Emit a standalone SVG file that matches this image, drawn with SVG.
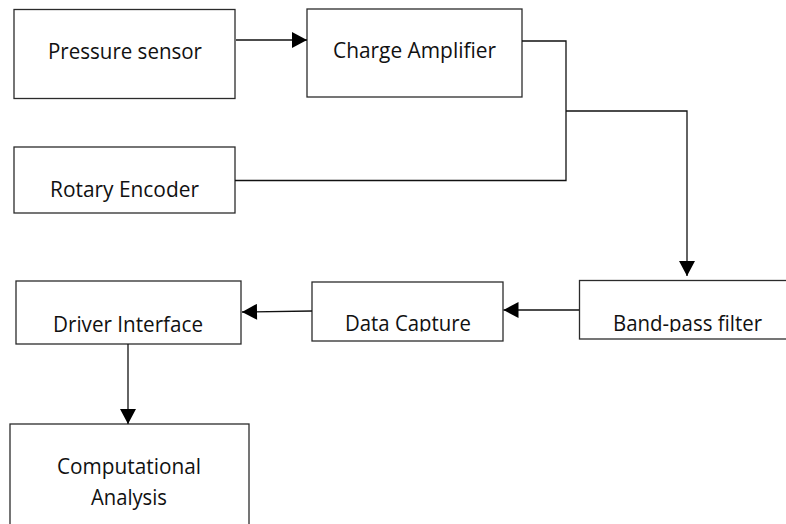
<svg xmlns="http://www.w3.org/2000/svg" width="786" height="524" viewBox="0 0 786 524">
  <style>
    .box { fill: #ffffff; stroke: #2b2b2b; stroke-width: 1.3; }
    .label { font-family: "Open Sans", "Noto Sans", "Liberation Sans", sans-serif; font-size: 21.5px; fill: #111111; text-anchor: middle; }
    .wire { fill: none; stroke: #111111; stroke-width: 1.3; }
  </style>
  <defs>
    <marker id="arrow" markerUnits="userSpaceOnUse" markerWidth="16" markerHeight="16" viewBox="0 0 15 16" refX="15" refY="8" orient="auto">
      <path d="M0,0 L15,8 L0,16 Z" fill="#000000"/>
    </marker>
    <clipPath id="clip-capture"><rect x="312" y="282" width="191" height="49.5"/></clipPath>
    <clipPath id="clip-bandpass"><rect x="579" y="281" width="207" height="51"/></clipPath>
  </defs>

  <rect width="786" height="524" fill="#ffffff"/>

  <g id="pressure-sensor">
    <rect class="box" x="14" y="9.5" width="221" height="89"/>
    <text class="label" x="125" y="59" textLength="154" lengthAdjust="spacingAndGlyphs">Pressure sensor</text>
  </g>

  <g id="charge-amplifier">
    <rect class="box" x="307" y="9" width="215" height="88"/>
    <text class="label" x="414.5" y="58" textLength="163" lengthAdjust="spacingAndGlyphs">Charge Amplifier</text>
  </g>

  <g id="rotary-encoder">
    <rect class="box" x="14" y="147" width="221" height="66"/>
    <text class="label" x="124.5" y="197" textLength="149" lengthAdjust="spacingAndGlyphs">Rotary Encoder</text>
  </g>

  <g id="band-pass-filter">
    <rect class="box" x="579.5" y="280.5" width="220" height="58.5"/>
    <text class="label" x="687.5" y="331" textLength="149" lengthAdjust="spacingAndGlyphs" clip-path="url(#clip-bandpass)">Band-pass filter</text>
  </g>

  <g id="data-capture">
    <rect class="box" x="312" y="282" width="191" height="59"/>
    <text class="label" x="408" y="331" textLength="126" lengthAdjust="spacingAndGlyphs" clip-path="url(#clip-capture)">Data Capture</text>
  </g>

  <g id="driver-interface">
    <rect class="box" x="16" y="281" width="225" height="63"/>
    <text class="label" x="128" y="331.5" textLength="150" lengthAdjust="spacingAndGlyphs">Driver Interface</text>
  </g>

  <g id="computational-analysis">
    <rect class="box" x="10" y="424" width="239" height="120"/>
    <text class="label" x="129" y="474" textLength="144" lengthAdjust="spacingAndGlyphs">Computational</text>
    <text class="label" x="129" y="505" textLength="76" lengthAdjust="spacingAndGlyphs">Analysis</text>
  </g>

  <g id="connectors">
    <line class="wire" x1="236" y1="40" x2="307" y2="40" marker-end="url(#arrow)"/>
    <polyline class="wire" points="522,41 566,41 566,180.5 235,180.5"/>
    <polyline class="wire" points="566,111 687,111 687,276" marker-end="url(#arrow)"/>
    <line class="wire" x1="579" y1="310" x2="503.5" y2="310" marker-end="url(#arrow)"/>
    <line class="wire" x1="312" y1="311" x2="242" y2="312" marker-end="url(#arrow)"/>
    <line class="wire" x1="128" y1="344" x2="128" y2="424" marker-end="url(#arrow)"/>
  </g>
</svg>
